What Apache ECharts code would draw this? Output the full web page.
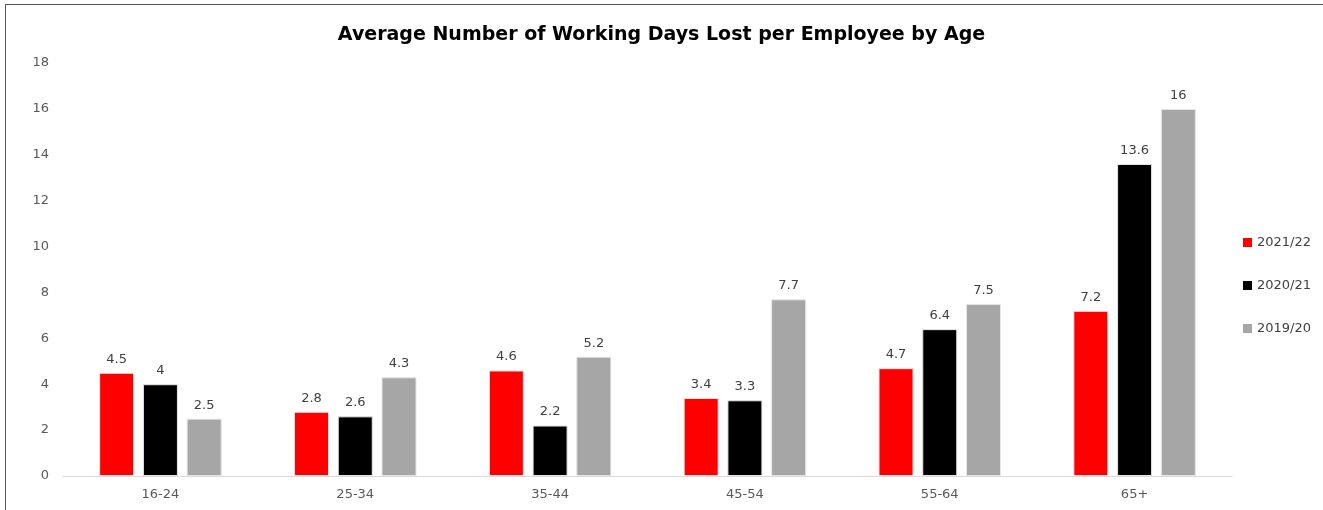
<!DOCTYPE html>
<html>
<head>
<meta charset="utf-8">
<script src="https://cdn.jsdelivr.net/npm/echarts@6/dist/echarts.min.js"></script>
<style>
  html, body { margin: 0; padding: 0; background: #fff; }
  #wrap { position: relative; width: 1323px; height: 510px; overflow: hidden; }
  #frame { position: absolute; left: 5px; top: 4px; width: 1400px; height: 600px; border: 1px solid #555; box-sizing: border-box; }
  #main { position: absolute; left: 0; top: 0; width: 1323px; height: 510px; }
</style>
</head>
<body>
<div id="wrap">
  <div id="frame"></div>
  <div id="main"></div>
</div>
<script>
// data
var ageGroups = ['16-24', '25-34', '35-44', '45-54', '55-64', '65+'];
var y2122 = [4.5, 2.8, 4.6, 3.4, 4.7, 7.2];
var y2021 = [4, 2.6, 2.2, 3.3, 6.4, 13.6];
var y1920 = [2.5, 4.3, 5.2, 7.7, 7.5, 16];

var chart = echarts.init(document.getElementById('main'));
var fontName = 'DejaVu Sans';

function makeBar(name, data, color) {
  return {
    name: name,
    type: 'bar',
    data: data,
    barWidth: 35,
    barGap: '25%',
    itemStyle: { color: color, borderColor: '#e6e6e6', borderWidth: 1 },
    label: {
      show: true,
      position: 'top',
      distance: 7,
      color: '#404040',
      fontSize: 13,
      fontFamily: fontName
    }
  };
}

var option = {
  animation: false,
  title: {
    text: 'Average Number of Working Days Lost per Employee by Age',
    left: 'center',
    top: 21,
    textStyle: { fontSize: 19, fontWeight: 'bold', color: '#000', fontFamily: fontName }
  },
  legend: {
    orient: 'vertical',
    left: 1238,
    top: 231,
    itemWidth: 9,
    itemHeight: 9,
    itemGap: 30,
    icon: 'rect',
    itemStyle: { borderWidth: 0 },
    textStyle: { color: '#404040', fontSize: 13, fontFamily: fontName }
  },
  grid: { left: 63, right: 91, top: 63, bottom: 34 },
  xAxis: {
    type: 'category',
    data: ageGroups,
    axisLine: { lineStyle: { color: '#d9d9d9', width: 1 } },
    axisTick: { show: false },
    axisLabel: { color: '#595959', fontSize: 13, margin: 12, fontFamily: fontName }
  },
  yAxis: {
    type: 'value',
    min: 0,
    max: 18,
    interval: 2,
    splitLine: { show: false },
    axisLine: { show: false },
    axisTick: { show: false },
    axisLabel: { color: '#595959', fontSize: 13, margin: 14, fontFamily: fontName }
  },
  series: [
    makeBar('2021/22', y2122, '#ff0000'),
    makeBar('2020/21', y2021, '#000000'),
    makeBar('2019/20', y1920, '#a6a6a6')
  ]
};

chart.setOption(option);
</script>
</body>
</html>
